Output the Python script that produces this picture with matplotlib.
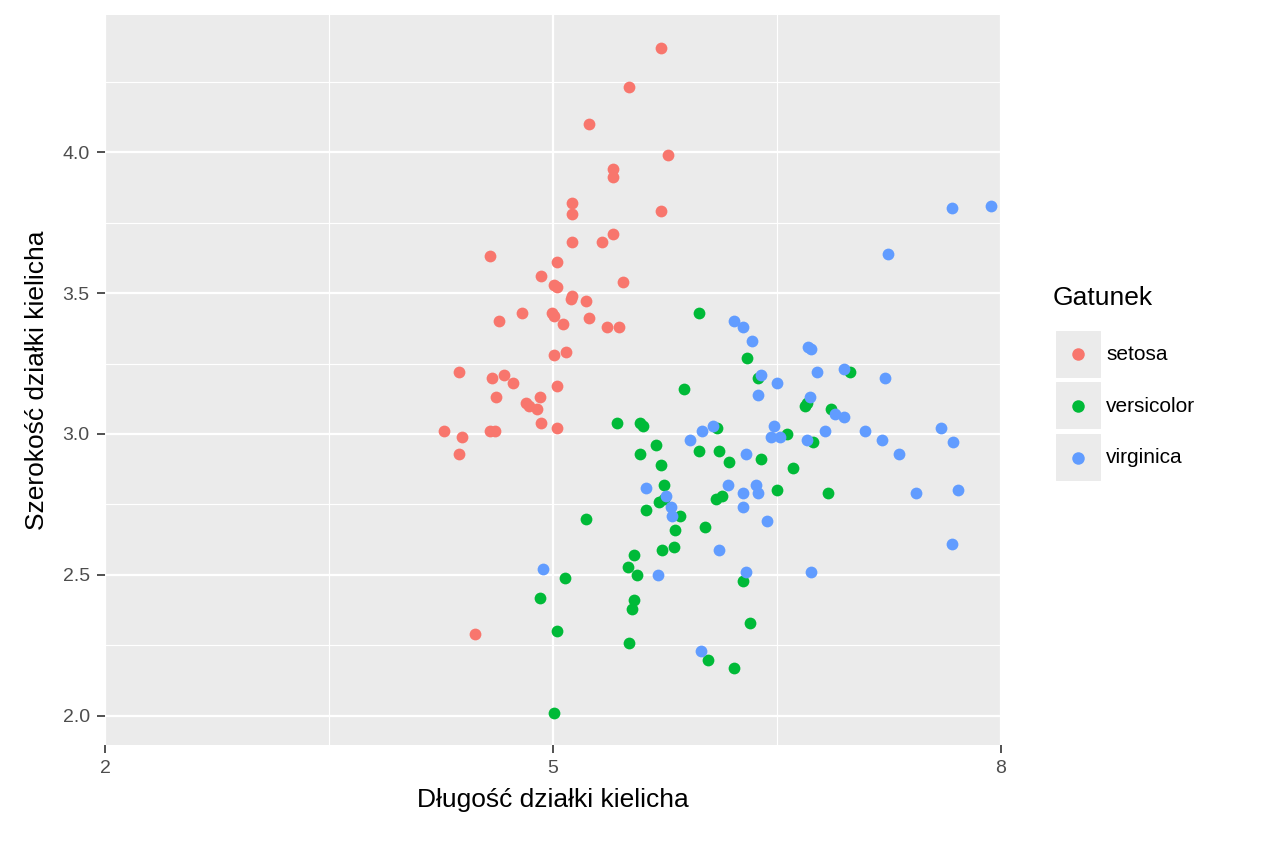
import matplotlib
matplotlib.use("Agg")
import matplotlib.pyplot as plt
from matplotlib.ticker import MultipleLocator, FixedLocator
from matplotlib.patches import Rectangle
from matplotlib.lines import Line2D

plt.rcParams['font.family'] = ['Liberation Sans', 'DejaVu Sans']

species = ["setosa", "versicolor", "virginica"]
colors = ["#F8766D", "#00BA38", "#619CFF"]

setosa_x = [5.72, 5.51, 5.24, 5.77, 5.40, 5.40, 5.13, 5.72, 5.13, 5.13, 5.33, 5.40, 4.58, 5.03, 5.47,
            4.92, 5.01, 5.03, 5.13, 5.12, 5.22, 4.64, 4.79, 4.99, 5.01, 5.07, 5.24, 5.36, 5.44, 5.09,
            5.01, 4.37, 4.67, 4.59, 4.73, 4.62, 4.82, 4.91, 5.03, 4.89, 4.84, 4.58, 4.61, 4.92, 4.27,
            4.39, 5.03, 4.37, 4.48]
setosa_y = [4.37, 4.23, 4.10, 3.99, 3.94, 3.91, 3.82, 3.79, 3.78, 3.68, 3.68, 3.71, 3.63, 3.61, 3.54,
            3.56, 3.53, 3.52, 3.49, 3.48, 3.47, 3.40, 3.43, 3.43, 3.42, 3.39, 3.41, 3.38, 3.38, 3.29,
            3.28, 3.22, 3.21, 3.20, 3.18, 3.13, 3.11, 3.13, 3.17, 3.09, 3.10, 3.01, 3.01, 3.04, 3.01,
            2.99, 3.02, 2.93, 2.29]

versicolor_x = [5.98, 6.30, 5.88, 6.37, 6.99, 6.70, 6.86, 6.69, 6.57, 6.74, 5.43, 5.58, 5.60, 6.10, 5.69,
                5.98, 6.11, 5.58, 5.72, 6.18, 6.39, 6.61, 5.74, 5.74, 6.09, 6.13, 6.50, 6.84, 5.62, 5.85,
                5.22, 5.82, 6.02, 5.73, 5.81, 5.54, 5.50, 5.56, 6.27, 5.08, 5.54, 5.53, 4.91, 6.32, 5.03,
                5.51, 6.04, 6.21, 5.01, 5.71]
versicolor_y = [3.43, 3.27, 3.16, 3.20, 3.22, 3.11, 3.09, 3.10, 3.00, 2.97, 3.04, 3.04, 3.03, 3.02, 2.96,
                2.94, 2.94, 2.93, 2.89, 2.90, 2.91, 2.88, 2.82, 2.77, 2.77, 2.78, 2.80, 2.79, 2.73, 2.71,
                2.70, 2.66, 2.67, 2.59, 2.60, 2.57, 2.53, 2.50, 2.48, 2.49, 2.41, 2.38, 2.42, 2.33, 2.30,
                2.26, 2.20, 2.17, 2.01, 2.76]

virginica_x = [7.93, 7.67, 7.24, 6.21, 6.27, 6.33, 6.71, 6.73, 6.39, 6.50, 6.95, 6.77, 7.22, 6.37, 6.72,
               6.89, 6.95, 7.09, 6.82, 6.48, 6.46, 6.52, 6.70, 7.20, 7.60, 7.68, 7.32, 5.92, 6.00, 6.07,
               6.29, 6.17, 6.36, 6.37, 6.27, 5.62, 5.76, 5.79, 5.80, 6.27, 6.43, 7.71, 7.43, 4.93, 6.11,
               5.70, 6.29, 6.73, 7.67, 5.99]
virginica_y = [3.81, 3.80, 3.64, 3.40, 3.38, 3.33, 3.31, 3.30, 3.21, 3.18, 3.23, 3.22, 3.20, 3.14, 3.13,
               3.07, 3.06, 3.01, 3.01, 3.03, 2.99, 2.99, 2.98, 2.98, 3.02, 2.97, 2.93, 2.98, 3.01, 3.03,
               2.93, 2.82, 2.82, 2.79, 2.79, 2.81, 2.78, 2.74, 2.71, 2.74, 2.69, 2.80, 2.79, 2.52, 2.59,
               2.50, 2.51, 2.51, 2.61, 2.23]

xs = [setosa_x, versicolor_x, virginica_x]
ys = [setosa_y, versicolor_y, virginica_y]

W, H = 1264, 843
fig = plt.figure(figsize=(12.64, 8.43), dpi=100)
ax = fig.add_axes([105/W, 1 - 745/H, (1001-105)/W, (745-15)/H])
ax.set_facecolor("#EBEBEB")
for name, c, x, y in zip(species, colors, xs, ys):
    ax.scatter(x, y, s=72, color=c, label=name, zorder=3, linewidths=0)

ax.set_xlim(2, 8)
ax.set_ylim(1.897, 4.486)
ax.xaxis.set_major_locator(FixedLocator([2, 5, 8]))
ax.xaxis.set_minor_locator(FixedLocator([3.5, 6.5]))
ax.yaxis.set_major_locator(MultipleLocator(0.5))
ax.yaxis.set_minor_locator(MultipleLocator(0.25))
ax.grid(which="major", color="white", linewidth=1.6, zorder=0)
ax.grid(which="minor", color="white", linewidth=0.8, zorder=0)
ax.set_axisbelow(True)
for s in ax.spines.values():
    s.set_visible(False)
ax.tick_params(which="major", length=6, width=1.2, color="#333333", labelsize=14,
               labelcolor="#4D4D4D", pad=5)
ax.tick_params(which="minor", length=0)
ax.set_xticklabels(["2", "5", "8"])
ax.set_xlabel("Długość działki kielicha", fontsize=19, labelpad=8)
ax.set_ylabel("Szerokość działki kielicha", fontsize=19, labelpad=10)

# legend drawn by hand: grey key boxes like ggplot2
fig.text(1053/W, 1 - 298/H, "Gatunek", fontsize=19, va="center", ha="left")
for i, (name, c) in enumerate(zip(species, colors)):
    top = 330 + i * 51.5
    fig.add_artist(Rectangle((1055/W, 1 - (top + 49)/H), 47/W, 49/H,
                             transform=fig.transFigure, facecolor="#EBEBEB", edgecolor="white", lw=1.5))
    cy = 1 - (top + 24.5)/H
    fig.add_artist(Line2D([1078/W], [cy], transform=fig.transFigure, marker="o",
                          markersize=9, color=c, markeredgewidth=0))
    fig.text(1106/W, cy, name, fontsize=15, va="center", ha="left")

fig.savefig("out.png", dpi=100)
